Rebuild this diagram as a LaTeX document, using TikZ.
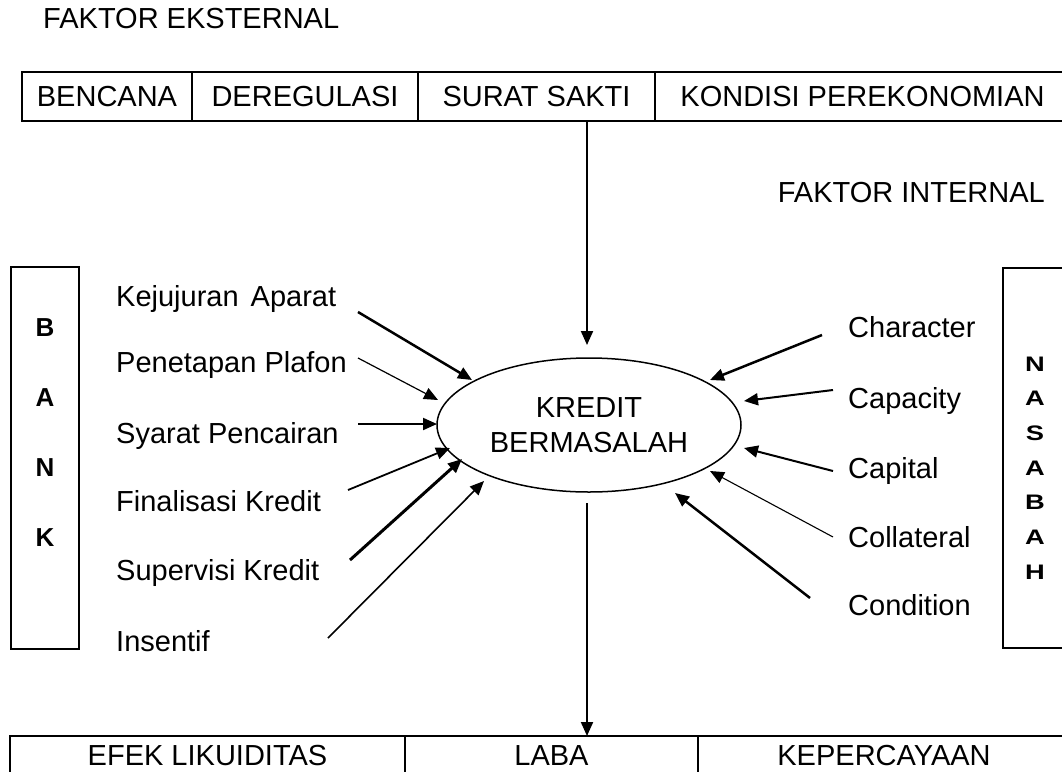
\documentclass[tikz,border=0pt]{standalone}
\usepackage{fontspec}
\setmainfont{Liberation Sans}
\usetikzlibrary{arrows.meta,shapes.geometric}
\newcommand\wideletter[1]{\scalebox{1.3}[1]{#1}}
\begin{document}
\begin{tikzpicture}[x=1pt,y=-1pt,
  txt/.style={font=\fontsize{29}{35}\selectfont, inner sep=0pt},
  cell/.style={draw, line width=1.5pt, txt, minimum height=49pt, outer sep=0pt},
  bcell/.style={draw, line width=1.5pt, txt, minimum height=40pt, outer sep=0pt},
  sidebox/.style={draw, line width=1.5pt, inner sep=0pt, outer sep=0pt},
  arr/.style={-{Triangle[length=14pt,width=12pt]}, line width=2pt},
  lbl/.style={txt, anchor=base west},
  vlet/.style={font=\fontsize{26}{69.7}\selectfont\bfseries, align=center, inner sep=0pt},
  vlets/.style={font=\fontsize{21}{34.7}\selectfont\bfseries, align=center, inner sep=0pt},
]
\useasboundingbox (0,0) rectangle (1062,771);

% titles
\node[txt, anchor=west] (fe) at (43,19) {FAKTOR EKSTERNAL};
\node[txt, anchor=east] (fi) at (1045,193) {FAKTOR INTERNAL};

% top boxes
\node[cell, minimum width=170pt] (bencana) at (107,96.5) {BENCANA};
\node[cell, minimum width=226pt] (dereg) at (305,96.5) {DEREGULASI};
\node[cell, minimum width=237pt] (surat) at (536.5,96.5) {SURAT SAKTI};
\node[cell, minimum width=415pt] (kondisi) at (862.5,96.5) {KONDISI PEREKONOMIAN};

% bottom boxes
\node[bcell, minimum width=395pt] (efek) at (207.5,756) {EFEK LIKUIDITAS};
\node[bcell, minimum width=293pt] (laba) at (551.5,756) {LABA};
\node[bcell, minimum width=372pt] (kep) at (884,756) {KEPERCAYAAN};

% side boxes
\node[sidebox, minimum width=68pt, minimum height=382pt] (bank) at (45,458) {};
\node[vlet] (bankt) at (45,432.5) {B\\A\\N\\K};
\node[sidebox, minimum width=77pt, minimum height=380pt] (nasabah) at (1041.5,458) {};
\node[vlets] (nasabaht) at (1035,468) {\wideletter{N}\\\wideletter{A}\\\wideletter{S}\\\wideletter{A}\\\wideletter{B}\\\wideletter{A}\\\wideletter{H}};

% central ellipse
\node[draw, ellipse, line width=1.5pt, minimum width=304pt, minimum height=134pt,
      inner sep=0pt, txt, align=center] (kb) at (589,425) {KREDIT\\BERMASALAH};

% left labels
\node[lbl] (kej) at (116,306) {Kejujuran\hspace{4pt} Aparat};
\node[lbl] (pen) at (116,372) {Penetapan Plafon};
\node[lbl] (sya) at (116,443) {Syarat Pencairan};
\node[lbl] (fin) at (116,511) {Finalisasi Kredit};
\node[lbl] (sup) at (116,580) {Supervisi Kredit};
\node[lbl] (ins) at (116,651) {Insentif};

% right labels
\node[lbl] (cha) at (848,337) {Character};
\node[lbl] (cap) at (848,408) {Capacity};
\node[lbl] (cpl) at (848,478) {Capital};
\node[lbl] (col) at (848,547) {Collateral};
\node[lbl] (con) at (848,615) {Condition};

% arrow end coordinates
\coordinate (sK) at (358,312);  \coordinate (tK) at (472,380);
\coordinate (sP) at (358,358);  \coordinate (tP) at (438,400);
\coordinate (sS) at (358,424);  \coordinate (tS) at (437,424);
\coordinate (sF) at (348,490);  \coordinate (tF) at (450,448);
\coordinate (sSu) at (350,560); \coordinate (tSu) at (462,459);
\coordinate (sI) at (328,638);  \coordinate (tI) at (484,481);

\coordinate (sCh) at (822,335); \coordinate (tCh) at (710,380);
\coordinate (sCa) at (833,390); \coordinate (tCa) at (744,401);
\coordinate (sCp) at (833,471); \coordinate (tCp) at (744,448);
\coordinate (sCo) at (833,537); \coordinate (tCo) at (710,471);
\coordinate (sCn) at (810,598); \coordinate (tCn) at (675,493);

% left arrows
\draw[arr, line width=2.5pt] (sK) -- (tK);
\draw[arr, line width=1.2pt] (sP) -- (tP);
\draw[arr] (sS) -- (tS);
\draw[arr, line width=1.8pt] (sF) -- (tF);
\draw[arr, line width=3pt] (sSu) -- (tSu);
\draw[arr, line width=1.6pt] (sI) -- (tI);

% right arrows
\draw[arr, line width=2.5pt] (sCh) -- (tCh);
\draw[arr] (sCa) -- (tCa);
\draw[arr] (sCp) -- (tCp);
\draw[arr, line width=1.1pt] (sCo) -- (tCo);
\draw[arr, line width=2.5pt] (sCn) -- (tCn);

% vertical arrows
\coordinate (topin) at (587,121);
\coordinate (topend) at (587,345);
\draw[arr] (topin) -- (topend);
\coordinate (botstart) at (587,503);
\coordinate (botend) at (587,736);
\draw[arr] (botstart) -- (botend);
\end{tikzpicture}
\end{document}
